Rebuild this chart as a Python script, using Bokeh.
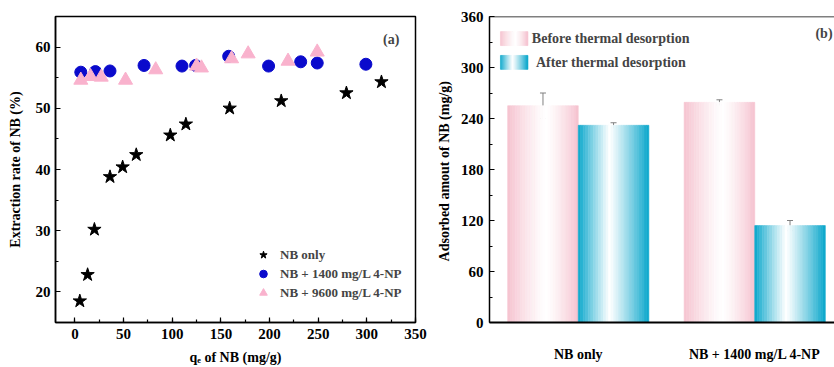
from bokeh.plotting import figure
from bokeh.models import (Legend, LegendItem, SingleIntervalTicker, FixedTicker, Whisker,
                          ColumnDataSource, Label, Span, TeeHead, Range1d)
from bokeh.layouts import row
from bokeh.embed import file_html
from bokeh.resources import INLINE

FONT = "Liberation Serif"

# ---------------- data: panel (a) ----------------
nb_only_q = [5, 13, 20, 36, 49, 63, 98, 114, 159, 212, 279, 315]
nb_only_rate = [18.5, 22.8, 30.2, 38.8, 40.4, 42.4, 45.6, 47.4, 50.0, 51.2, 52.5, 54.3]
np1400_q = [6, 21, 36, 71, 110, 124, 158, 199, 232, 249, 299]
np1400_rate = [55.9, 56.0, 56.1, 57.0, 56.9, 57.0, 58.5, 56.9, 57.6, 57.4, 57.2]
np9600_q = [6, 16, 27, 52, 83, 125, 130, 161, 178, 219, 249]
np9600_rate = [54.6, 55.2, 55.1, 54.6, 56.3, 56.9, 56.6, 58.1, 58.9, 57.7, 59.2]

# ---------------- data: panel (b) ----------------
categories = ["NB only", "NB + 1400 mg/L 4-NP"]
before = [255, 259]
before_err = [15, 3]
after = [232, 114]
after_err = [3, 6]
series_names = ["Before thermal desorption", "After  thermal desorption"]


def style_axis(ax, size="15px"):
    ax.major_label_text_font = FONT
    ax.major_label_text_font_style = "bold"
    ax.major_label_text_font_size = size
    ax.major_label_text_color = "black"
    ax.axis_label_text_font = FONT
    ax.axis_label_text_font_style = "bold"
    ax.axis_label_text_font_size = "14px"
    ax.axis_label_text_color = "black"
    ax.axis_line_color = "black"
    ax.axis_line_width = 1.5
    ax.major_tick_in = 5
    ax.major_tick_out = 0
    ax.minor_tick_in = 3
    ax.minor_tick_out = 0
    ax.major_tick_line_color = "black"
    ax.minor_tick_line_color = "black"
    ax.major_tick_line_width = 1.2
    ax.minor_tick_line_width = 1.2


# ---------------- panel (a) ----------------
p1 = figure(width=433, height=367, x_range=Range1d(-20, 350), y_range=Range1d(15, 65),
            output_backend="svg", toolbar_location=None,
            min_border_left=55, min_border_right=18, min_border_top=16, min_border_bottom=45)
p1.grid.visible = False
p1.outline_line_color = "black"
p1.outline_line_width = 1.5
p1.outline_line_alpha = 1
p1.xaxis.ticker = SingleIntervalTicker(interval=50, num_minor_ticks=2)
p1.yaxis.ticker = SingleIntervalTicker(interval=10, num_minor_ticks=2)
style_axis(p1.xaxis[0])
style_axis(p1.yaxis[0])
p1.xaxis.axis_label = "qₑ of NB (mg/g)"
p1.yaxis.axis_label = "Extraction rate of NB (%)"
p1.xaxis.major_label_standoff = 6
p1.xaxis.axis_label_standoff = 8
p1.yaxis.major_label_standoff = 5
p1.yaxis.axis_label_standoff = 10

r_star = p1.scatter(nb_only_q, nb_only_rate, marker="star", size=14,
                    fill_color="black", line_color="black")
r_circ = p1.scatter(np1400_q, np1400_rate, marker="circle", size=12,
                    fill_color="#0a0acc", line_color="#0a0acc")
r_tri = p1.scatter(np9600_q, np9600_rate, marker="triangle", size=14,
                   fill_color="#f9b2cd", line_color="#f9b2cd")

leg = Legend(items=[LegendItem(label="NB only", renderers=[r_star]),
                    LegendItem(label="NB + 1400 mg/L 4-NP", renderers=[r_circ]),
                    LegendItem(label="NB + 9600 mg/L 4-NP", renderers=[r_tri])],
             location=(197, 20), glyph_width=22, glyph_height=19, label_height=17,
             label_standoff=6, spacing=0, padding=0, margin=0,
             border_line_color=None, background_fill_alpha=0,
             label_text_font=FONT, label_text_font_style="bold",
             label_text_font_size="13px")
p1.add_layout(leg)
p1.add_layout(Label(x=325, y=61.3, text="(a)", text_font=FONT, text_font_style="bold",
                    text_font_size="14px", text_align="center", text_baseline="middle"))

# ---------------- panel (b) ----------------
p2 = figure(width=401, height=367, x_range=Range1d(0.497, 2.452), y_range=Range1d(0, 360),
            output_backend="svg", toolbar_location=None,
            min_border_left=51, min_border_right=0, min_border_top=16, min_border_bottom=45)
p2.grid.visible = False
p2.outline_line_color = None
p2.yaxis.ticker = SingleIntervalTicker(interval=60, num_minor_ticks=2)
style_axis(p2.yaxis[0])
style_axis(p2.xaxis[0], size="14px")
p2.yaxis.axis_label = "Adsorbed amout of NB  (mg/g)"
p2.yaxis.major_label_standoff = 6
p2.yaxis.axis_label_standoff = 6
p2.xaxis.ticker = FixedTicker(ticks=[1, 2])
p2.xaxis.major_label_overrides = {1: categories[0], 2: categories[1]}
p2.xaxis.major_tick_in = 0
p2.xaxis.minor_tick_in = 0
p2.xaxis.major_label_standoff = 24
p2.xaxis.axis_line_width = 2
p2.add_layout(Span(location=360, dimension="width", line_color="black", line_width=1.5))


def hex2rgb(h):
    h = h.lstrip("#")
    return tuple(int(h[i:i + 2], 16) for i in (0, 2, 4))


def gradient(edge_hex, center, n, power):
    er = hex2rgb(edge_hex)
    cols = []
    for i in range(n):
        t = (i + 0.5) / n
        d = (center - t) / center if t < center else (t - center) / (1 - center)
        k = d ** power
        c = [round(255 * (1 - k) + e * k) for e in er]
        cols.append("#%02x%02x%02x" % tuple(c))
    return cols


N = 28
BAR_W = 0.4
pink_cols = gradient("#f6c2cf", 0.55, N, 1.3)
blue_cols = gradient("#08a6cb", 0.45, N, 1.1)


def strips(left_edge, width, bottom, top, cols):
    L, R, B, T = [], [], [], []
    for i in range(len(cols)):
        l = left_edge + i * width / len(cols)
        L.append(l)
        R.append(l + width / len(cols))
        B.append(bottom)
        T.append(top)
    return dict(left=L, right=R, bottom=B, top=T, color=list(cols))


centers = [i + 1 for i in range(len(categories))]
for j, cx in enumerate(centers):
    for vals, cols, off in ((before, pink_cols, -BAR_W / 2), (after, blue_cols, BAR_W / 2)):
        src = ColumnDataSource(strips(cx + off - BAR_W / 2, BAR_W, 0, vals[j], cols))
        p2.quad(left="left", right="right", bottom="bottom", top="top", source=src,
                fill_color="color", line_color="color", line_width=0.6)

err_src = ColumnDataSource(dict(
    x=[c - BAR_W / 2 for c in centers] + [c + BAR_W / 2 for c in centers],
    upper=[v + e for v, e in zip(before, before_err)] + [v + e for v, e in zip(after, after_err)],
    lower=[v - e for v, e in zip(before, before_err)] + [v - e for v, e in zip(after, after_err)],
))
p2.add_layout(Whisker(source=err_src, base="x", upper="upper", lower="lower",
                      line_color="#808080", line_width=1,
                      upper_head=TeeHead(size=6, line_color="#808080", line_width=1),
                      lower_head=TeeHead(size=6, line_color="#808080", line_width=1)))

# manual legend with gradient swatches
for k, (cols, ymid, name, tx) in enumerate(((pink_cols, 334, series_names[0], 0.737),
                                            (blue_cols, 306, series_names[1], 0.76))):
    src = ColumnDataSource(strips(0.559, 0.156, ymid - 8.2, ymid + 8.2, cols))
    p2.quad(left="left", right="right", bottom="bottom", top="top", source=src,
            fill_color="color", line_color="color", line_width=0.6)
    p2.add_layout(Label(x=tx, y=ymid, text=name, text_font=FONT, text_font_style="bold",
                        text_font_size="14px", text_baseline="middle", text_align="left"))

p2.add_layout(Label(x=2.441, y=340, text="(b)", text_font=FONT, text_font_style="bold",
                    text_font_size="14px", text_align="right", text_baseline="middle"))

layout = row(p1, p2)
open("out.html", "w").write(file_html(layout, INLINE))
